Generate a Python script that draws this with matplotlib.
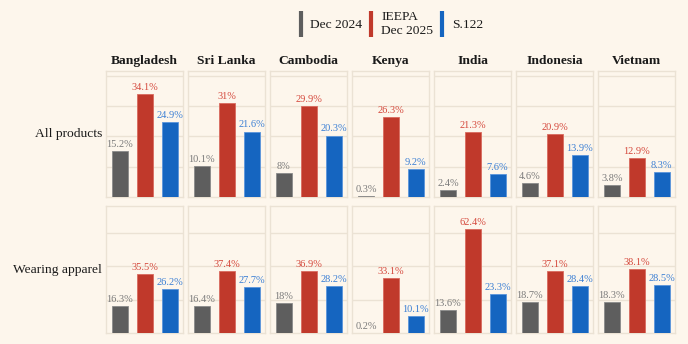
import matplotlib.pyplot as plt
from matplotlib.lines import Line2D

countries = ['Bangladesh', 'Sri Lanka', 'Cambodia', 'Kenya', 'India', 'Indonesia', 'Vietnam']
rows = ['All products', 'Wearing apparel']
series = ['Dec 2024', 'IEEPA\nDec 2025', 'S.122']

# tariff rates (%) per country: [Dec 2024, IEEPA Dec 2025, S.122]
all_products = [
    [15.2, 34.1, 24.9],
    [10.1, 31, 21.6],
    [8, 29.9, 20.3],
    [0.3, 26.3, 9.2],
    [2.4, 21.3, 7.6],
    [4.6, 20.9, 13.9],
    [3.8, 12.9, 8.3],
]
wearing_apparel = [
    [16.3, 35.5, 26.2],
    [16.4, 37.4, 27.7],
    [18, 36.9, 28.2],
    [0.2, 33.1, 10.1],
    [13.6, 62.4, 23.3],
    [18.7, 37.1, 28.4],
    [18.3, 38.1, 28.5],
]

bar_colors = ['#5e5e5e', '#c0392b', '#1565c0']
text_colors = ['#7a7a7a', '#d5483c', '#3b7fd4']
bg = '#fdf6ec'
line_c = '#ebe2d4'

plt.rcParams['font.family'] = ['Liberation Serif', 'DejaVu Serif']

W, H = 688, 344
fig = plt.figure(figsize=(W / 100, H / 100), dpi=100)
fig.patch.set_facecolor(bg)

left0, pw, gap = 106, 77, 5
row_boxes = [(71, 197), (206, 333)]  # top, bottom in pixels

for r, (data, rname) in enumerate(zip([all_products, wearing_apparel], rows)):
    top, bot = row_boxes[r]
    ymax = max(max(v) for v in data) * 1.22
    step = 10 if r == 0 else 20
    for c, name in enumerate(countries):
        x0 = left0 + c * (pw + gap)
        ax = fig.add_axes([x0 / W, (H - bot) / H, pw / W, (bot - top) / H])
        ax.set_facecolor(bg)
        vals = data[c]
        ax.bar(range(3), vals, width=0.65, color=bar_colors,
               edgecolor=['#8a8a8a', '#d96a5e', '#5a95dc'], linewidth=0.6, zorder=3)
        for i, v in enumerate(vals):
            ax.annotate(f'{v:g}%', (i, v), xytext=(0, 1.5), textcoords='offset points',
                        ha='center', va='bottom', fontsize=7.5, color=text_colors[i], zorder=4)
        ax.set_xlim(-0.56, 2.54)
        ax.set_ylim(0, ymax)
        ax.set_yticks([t for t in range(step, int(ymax) + 1, step)])
        ax.grid(axis='y', color=line_c, linewidth=1, zorder=0)
        ax.tick_params(left=False, bottom=False, labelleft=False, labelbottom=False)
        for s in ax.spines.values():
            s.set_color(line_c)
            s.set_linewidth(1)
        if r == 0:
            ax.set_title(name, fontsize=9.7, fontweight='bold', pad=5, color='#1a1a1a')
    fig.text(102 / W, 1 - (top + bot) / 2 / H, rname, ha='right', va='center',
             fontsize=9.7, color='#1a1a1a')

handles = [Line2D([], [], marker='|', linestyle='None', markersize=19,
                  markeredgewidth=3, color=col) for col in bar_colors]
fig.legend(handles, series, loc='center', bbox_to_anchor=(389 / W, 1 - 24 / H),
           ncol=3, frameon=False, fontsize=9.7, handlelength=0.8, handletextpad=0.33,
           columnspacing=0.25, labelcolor='#1a1a1a')

fig.savefig('out.png', dpi=100, facecolor=bg)
